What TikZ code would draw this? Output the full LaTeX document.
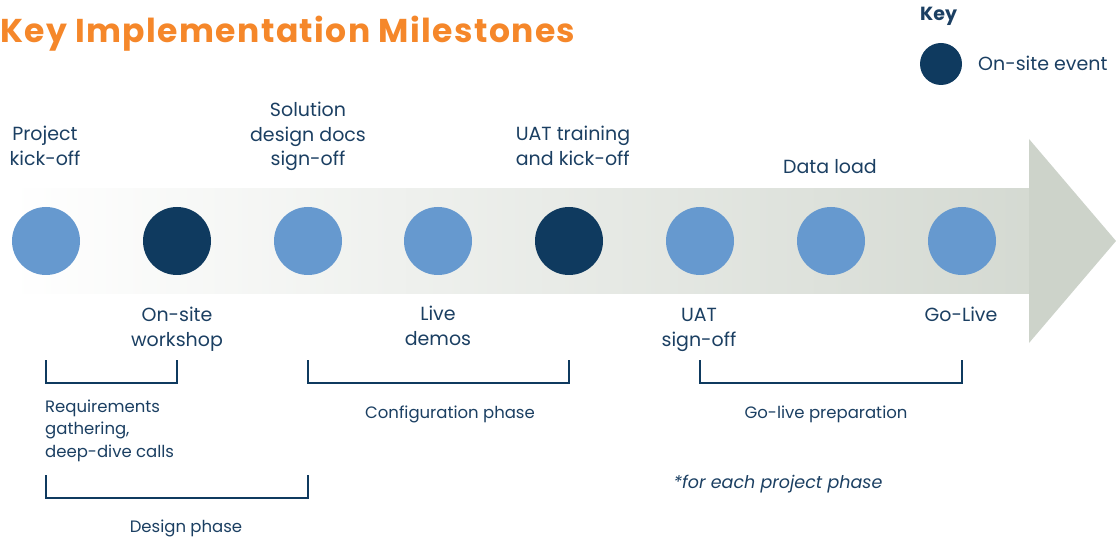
\documentclass[tikz,border=0pt]{standalone}
\usepackage{fontspec}
\setmainfont{Poppins}
\newfontfamily\titlefont[LetterSpace = 4.2]{Poppins}
\usetikzlibrary{positioning}
\definecolor{navy}{HTML}{0F3A5F}
\definecolor{lightblue}{HTML}{6699CF}
\definecolor{textblue}{HTML}{1B3F62}
\definecolor{titleorange}{HTML}{F5872A}
\definecolor{bandgrey}{HTML}{CDD3CA}
\tikzset{milestone/.style = {circle, fill = lightblue, minimum size = 68pt, inner sep = 0pt},
	onsite/.style = {milestone, fill = navy},
	toplabel/.style = {text = textblue, align = center, inner sep = 0pt, font = \fontsize{19}{24.5}\selectfont},
	phaselabel/.style = {text = textblue, align = center, inner sep = 0pt, font = \fontsize{16.5}{22.5}\selectfont},
	bracket/.style = {draw = navy, line width = 2pt}}

\begin{document}
\begin{tikzpicture}[x = 1pt, y = -1pt]

 \useasboundingbox (0,0) rectangle (1116,537);

 \node (title) at (0,34) [anchor = west, inner sep = 0pt, text = titleorange, font = \titlefont\bfseries\fontsize{33}{38}\selectfont] {Key Implementation Milestones};

 % key
 \node (keyhead) at (920,16) [anchor = west, inner sep = 0pt, text = textblue, font = \bfseries\fontsize{19}{22}\selectfont] {Key};
 \node (keydot) at (941,64) [onsite, minimum size = 42pt] {};
 \node (keytext) at (978,63) [toplabel, anchor = west] {On-site event};

 % arrow
 \shade [left color = white, right color = bandgrey!85!white] (10,189) rectangle (1029,294);
 \fill [bandgrey] (1029,139) -- (1116,241) -- (1029,343) -- cycle;

 \node (m1) at (46,241) [milestone] {};
 \node (m2) at (177,241) [onsite] {};
 \node (m3) at (308,241) [milestone] {};
 \node (m4) at (438,241) [milestone] {};
 \node (m5) at (569,241) [onsite] {};
 \node (m6) at (700,241) [milestone] {};
 \node (m7) at (831,241) [milestone] {};
 \node (m8) at (962,241) [milestone] {};

 % labels above
 \node (kickoff) at (45,146) [toplabel] {Project\\kick-off};
 \node (docs) at (308,136.5) [toplabel] {Solution\\design docs\\sign-off};
 \node (uattrain) at (573,146) [toplabel, align = left] {UAT training\\and kick-off};
 \node (dataload) at (830,167) [toplabel] {Data load};

 % labels below
 \node (workshop) at (177,329) [toplabel] {On-site\\workshop};
 \node (demos) at (438,326) [toplabel] {Live\\demos};
 \node (uatsign) at (699,330) [toplabel] {UAT\\sign-off};
 \node (golive) at (961,314) [toplabel] {Go-Live};

 % phases
 \draw [bracket] (m1 |- 0,360) |- (m2 |- 0,383) -- (m2 |- 0,360);
 \draw [bracket] (m3 |- 0,360) |- (m5 |- 0,383) -- (m5 |- 0,360);
 \draw [bracket] (m6 |- 0,360) |- (m8 |- 0,383) -- (m8 |- 0,360);
 \draw [bracket] (m1 |- 0,475) |- (m3 |- 0,498) -- (m3 |- 0,475);

 \node (reqs) at (45,430.5) [phaselabel, anchor = west, align = left] {Requirements\\gathering,\\deep-dive calls};
 \node (config) at (450,414) [phaselabel] {Configuration phase};
 \node (golivephase) at (826,414) [phaselabel] {Go-live preparation};
 \node (design) at (186,528) [phaselabel] {Design phase};
 \node (note) at (778,484) [phaselabel, font = \itshape\fontsize{17.5}{22.5}\selectfont] {*for each project phase};

\end{tikzpicture}
\end{document}
